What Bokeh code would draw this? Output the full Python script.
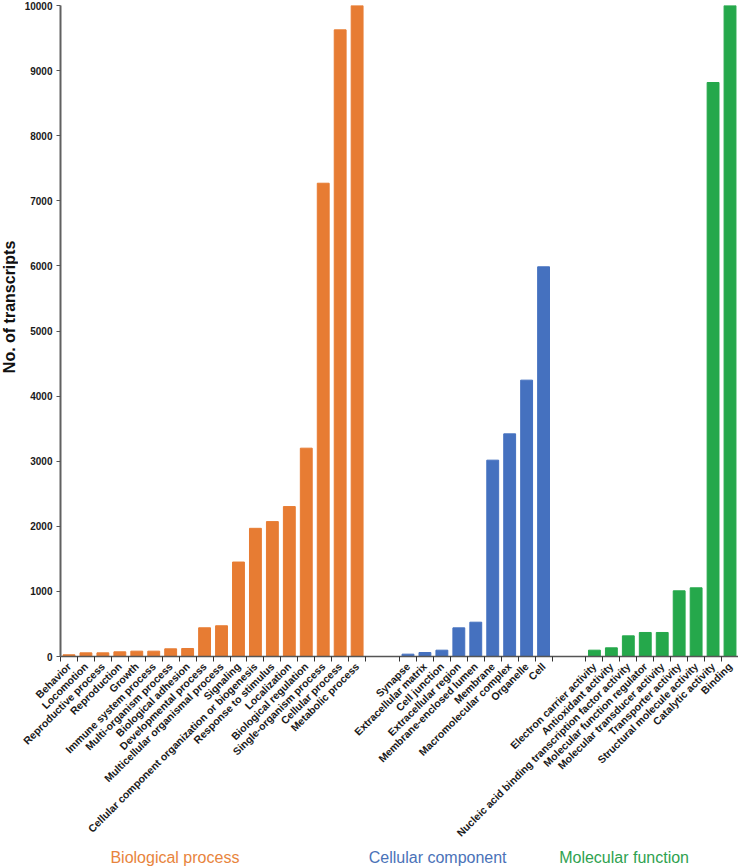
import math

from bokeh.core.properties import value
from bokeh.layouts  import column, row
from bokeh.models   import ColumnDataSource, FixedTicker, Range1d
from bokeh.plotting import figure
from bokeh.embed    import file_html
from bokeh.resources import INLINE

# ─── data ───────────────────────────────────────────────────────────────────
bp_labels = ["Behavior", "Locomotion", "Reproductive process", "Reproduction",
             "Growth", "Immune system process", "Multi-organism process",
             "Biological adhesion", "Developmental process",
             "Multicellular organismal process", "Signaling",
             "Cellular component organization or biogenesis",
             "Response to stimulus", "Localization", "Biological regulation",
             "Single-organism process", "Cellular process", "Metabolic process"]
bp_values = [26, 56, 56, 72, 82, 82, 118, 123, 441, 472, 1451, 1969,
             2072, 2303, 3200, 7270, 9626, 10000]

cc_labels = ["Synapse", "Extracellular matrix", "Cell junction",
             "Extracellular region", "Membrane-enclosed lumen", "Membrane",
             "Macromolecular complex", "Organelle", "Cell"]
cc_values = [36, 61, 97, 440, 527, 3016, 3420, 4245, 5986]

mf_labels = ["Electron carrier activity", "Antioxidant activity",
             "Nucleic acid binding transcription factor activity",
             "Molecular function regulator", "Molecular transducer activity",
             "Transporter activity", "Structural molecule activity",
             "Catalytic activity", "Binding"]
mf_values = [97, 133, 317, 369, 369, 1009, 1055, 8817, 10000]

group_names  = ["Biological process", "Cellular component", "Molecular function"]
group_colors = ["#E77C33", "#4571BF", "#25A84B"]
group_text   = ["#E8843C", "#4A72B8", "#2FA24F"]
y_ticks = list(range(0, 10001, 1000))
y_title = "No. of transcripts"

FONT = "Liberation Sans"
GAP = 2          # empty slots between groups
W, H = 738, 866
LEFT_W = 18      # strip holding the y title
CAP_H = 18       # strip holding the group captions
MAIN_H = H - CAP_H
TOP, BOTTOM = 5, 192


def main():
    groups = [(bp_labels, bp_values), (cc_labels, cc_values), (mf_labels, mf_values)]

    # slot positions: one slot per bar, GAP empty slots between groups
    xs, tops, colors, names = [], [], [], []
    boundaries, centers = [], []
    pos = 0
    for gi, (labs, vals) in enumerate(groups):
        start = pos
        for lab, v in zip(labs, vals):
            xs.append(pos + 0.5)
            tops.append(v)
            colors.append(group_colors[gi])
            names.append(lab)
            pos += 1
        boundaries += list(range(start, pos + 1))
        centers.append((start + pos) / 2)
        if gi < len(groups) - 1:
            pos += GAP
    total = pos

    src = ColumnDataSource(dict(x=xs, top=tops, color=colors, name=names))
    x_range = Range1d(0, total)
    y_range = Range1d(0, 10000)

    # ── main bar chart ──
    p = figure(width=W - LEFT_W, height=MAIN_H, output_backend="svg",
               toolbar_location=None, x_range=x_range, y_range=y_range,
               min_border_left=42, min_border_right=0,
               min_border_top=TOP, min_border_bottom=BOTTOM)
    p.grid.grid_line_color = None
    p.outline_line_color = None

    p.vbar(x="x", top="top", width=0.7, color="color", source=src)

    # x axis: labels under bars, tick marks between bars
    xa = p.xaxis[0]
    xa.ticker = FixedTicker(ticks=xs, minor_ticks=boundaries)
    xa.major_label_overrides = {x: n for x, n in zip(xs, names)}
    xa.major_label_orientation = math.pi / 4
    xa.major_label_text_font = FONT
    xa.major_label_text_font_style = "bold"
    xa.major_label_text_font_size = "10.5px"
    xa.major_label_text_color = "#1a1a1a"
    xa.major_label_standoff = 3
    xa.major_tick_in = 0
    xa.major_tick_out = 0
    xa.minor_tick_in = 0
    xa.minor_tick_out = 5
    xa.minor_tick_line_color = "#333333"
    xa.axis_line_color = "#555555"
    xa.axis_line_width = 1.5

    # y axis
    ya = p.yaxis[0]
    ya.ticker = FixedTicker(ticks=y_ticks)
    ya.major_label_text_font = FONT
    ya.major_label_text_font_style = "bold"
    ya.major_label_text_font_size = "10px"
    ya.major_label_text_color = "#1a1a1a"
    ya.major_label_standoff = 4
    ya.major_tick_in = 0
    ya.major_tick_out = 4
    ya.major_tick_line_color = "#555555"
    ya.minor_tick_line_color = None
    ya.axis_line_color = "#606060"
    ya.axis_line_width = 2

    # ── narrow strip on the left for the y title ──
    left = figure(width=LEFT_W, height=MAIN_H, output_backend="svg",
                  toolbar_location=None, x_range=Range1d(0, 1), y_range=y_range,
                  x_axis_location=None, y_axis_location=None,
                  min_border_left=0, min_border_right=0,
                  min_border_top=TOP, min_border_bottom=BOTTOM)
    left.grid.grid_line_color = None
    left.outline_line_color = None
    left.text(x=[0.5], y=[5370], text=[y_title], angle=math.pi / 2,
              text_align="center", text_baseline="middle",
              text_font=value(FONT), text_font_style="bold",
              text_font_size="16px", text_color="#111111")

    # ── group captions under the rotated labels ──
    cap = figure(width=W - LEFT_W, height=CAP_H, output_backend="svg",
                 toolbar_location=None, x_range=x_range, y_range=Range1d(0, 1),
                 x_axis_location=None, y_axis_location=None,
                 min_border_left=42, min_border_right=0,
                 min_border_top=0, min_border_bottom=0)
    cap.grid.grid_line_color = None
    cap.outline_line_color = None
    cap_src = ColumnDataSource(dict(x=[c - 2.25 for c in centers], y=[0.5] * 3,
                                    text=group_names, color=group_text))
    cap.text(x="x", y="y", text="text", text_color="color", source=cap_src,
             text_align="center", text_baseline="middle",
             text_font=value(FONT), text_font_size="16px")

    layout = row(left, column(p, cap))

    with open("out.html", "w") as f:
        f.write(file_html(layout, INLINE, title="GO classification"))


if __name__ == "__main__":
    main()
